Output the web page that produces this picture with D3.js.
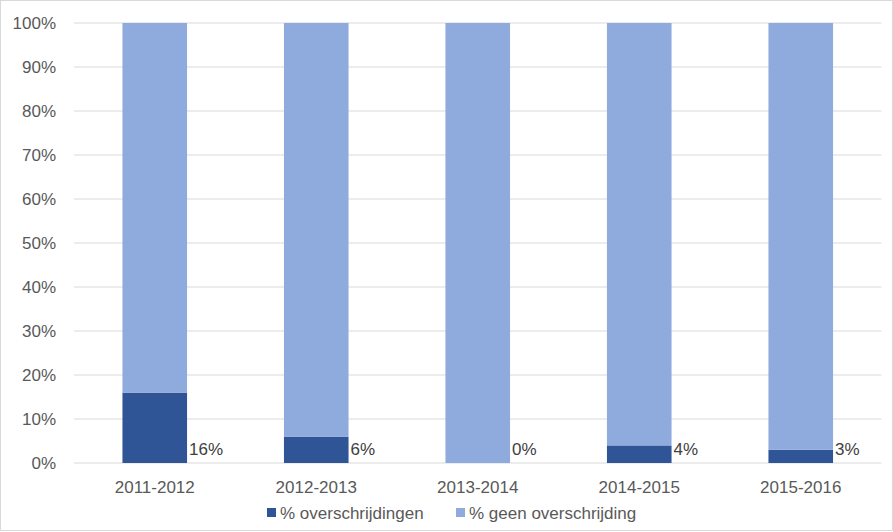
<!DOCTYPE html>
<html><head><meta charset="utf-8">
<script src="https://cdn.jsdelivr.net/npm/d3@7"></script>
<style>body{margin:0;background:#fff}svg{display:block}</style>
</head><body>
<script>
const categories = ["2011-2012","2012-2013","2013-2014","2014-2015","2015-2016"];
const overschrijdingen = [16, 6, 0, 4, 3];
const geenOverschrijding = [84, 94, 100, 96, 97];
const seriesNames = ["% overschrijdingen", "% geen overschrijding"];
const yTicks = [0,10,20,30,40,50,60,70,80,90,100];

(function(){
const W = 893, H = 532;
const mLeft = 74, mRight = 881.5, mTop = 23, mBottom = 463;
const colors = ["#2F5597", "#8FAADC"];
const font = "'Liberation Sans', Arial, sans-serif";
const fs = 17;

const svg = d3.select("body").append("svg").attr("width", W).attr("height", H);
svg.append("rect").attr("x",0.5).attr("y",0.5).attr("width",W-1).attr("height",H-2)
  .attr("fill","#fff").attr("stroke","#d9d9d9");

const x = d3.scaleBand().domain(categories).range([mLeft, mRight]).paddingInner(0.6).paddingOuter(0.3);
const y = d3.scaleLinear().domain([0,100]).range([mBottom, mTop]);

svg.append("g").selectAll("line").data(yTicks).join("line")
  .attr("x1", mLeft).attr("x2", mRight)
  .attr("y1", d => y(d)).attr("y2", d => y(d))
  .attr("stroke", "#d9d9d9").attr("stroke-width", 1);

const yAxis = d3.axisLeft(y).tickValues(yTicks).tickFormat(d => d + "%").tickSize(0).tickPadding(0);
const gy = svg.append("g").attr("transform", `translate(${mLeft-18},0)`).call(yAxis);
gy.select(".domain").remove();
gy.selectAll("text").attr("font-family", font).attr("font-size", fs).attr("fill", "#595959");

const xAxis = d3.axisBottom(x).tickSize(0).tickPadding(0);
const gx = svg.append("g").attr("transform", `translate(0,${mBottom+18})`).call(xAxis);
gx.select(".domain").remove();
gx.selectAll("text").attr("font-family", font).attr("font-size", fs).attr("fill", "#595959");

const rows = categories.map((c,i) => ({cat:c, a:overschrijdingen[i], b:geenOverschrijding[i]}));
const stack = d3.stack().keys(["a","b"])(rows);

svg.append("g").selectAll("g").data(stack).join("g")
  .attr("fill", (d,i) => colors[i])
  .selectAll("rect").data(d => d).join("rect")
  .attr("x", d => x(d.data.cat))
  .attr("y", d => y(d[1]))
  .attr("width", x.bandwidth())
  .attr("height", d => y(d[0]) - y(d[1]));

svg.append("g").selectAll("text").data(rows).join("text")
  .attr("x", d => x(d.cat) + x.bandwidth() + 2)
  .attr("y", d => y(0) - 8)
  .attr("font-family", font).attr("font-size", fs).attr("fill", "#404040")
  .text(d => d.a + "%");

const legend = svg.append("g").attr("font-family", font).attr("font-size", fs).attr("fill", "#595959");
const legendX = [267, 456];
seriesNames.forEach((n,i) => {
  legend.append("rect").attr("x", legendX[i]).attr("y", 508).attr("width", 9).attr("height", 9).attr("fill", colors[i]);
  legend.append("text").attr("x", legendX[i] + 13).attr("y", 519).text(n);
});
})();
</script>
</body></html>
